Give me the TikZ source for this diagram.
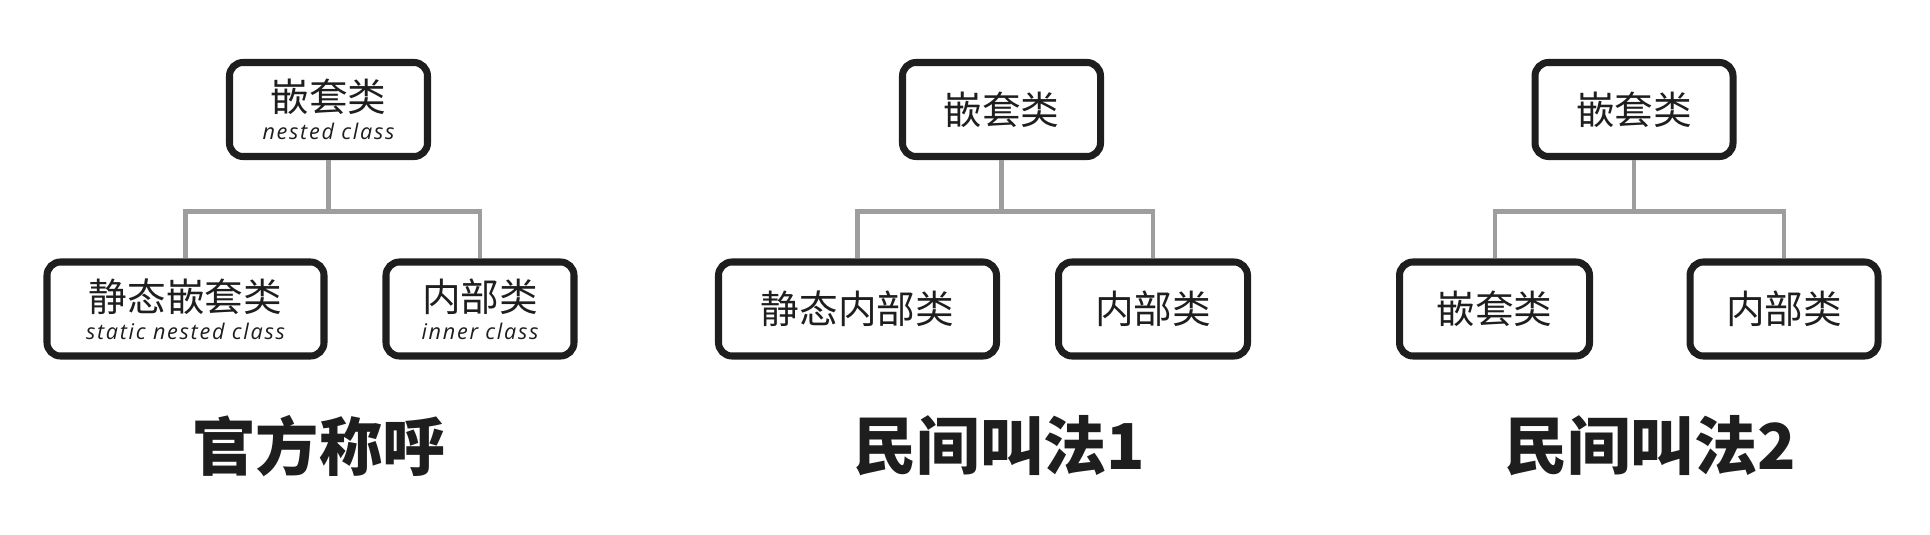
\documentclass[tikz,border=0pt]{standalone}
\usepackage{fontspec}
\usepackage{xcolor}
\usetikzlibrary{positioning, calc}
\setmainfont{Noto Sans CJK SC}
\newfontfamily\subfont[LetterSpace=8]{Open Sans}
\newcommand{\entext}[1]{{\subfont\itshape\fontsize{12.3}{14}\selectfont #1}}
\definecolor{ink}{HTML}{1E1E1E}
\definecolor{wire}{HTML}{9E9E9E}

\begin{document}
\begin{tikzpicture}[
  classbox/.style={draw=ink, line width=4pt, rounded corners=0.27cm, fill=white, text=ink,
    font=\fontsize{22}{24}\selectfont, align=center, minimum height=1.88cm, inner sep=0pt},
  link/.style={draw=wire, line width=2.3pt},
  tag/.style={font=\fontsize{36}{40}\selectfont\bfseries, text=ink}
]
\useasboundingbox (0,0) rectangle (38.6,10.68);
% Official names
\node[classbox, minimum width=3.96cm] (t1) at (6.57,8.49) {嵌套类\\[-8pt]\entext{nested class}};
\node[classbox, minimum width=5.54cm] (l1) at (3.71,4.5) {静态嵌套类\\[-8pt]\entext{static nested class}};
\node[classbox, minimum width=3.76cm] (r1) at (9.6,4.5) {内部类\\[-8pt]\entext{inner class}};
\path (t1.south) ++(0,-1.03) coordinate (j1);
\draw[link] (t1.south) -- (j1);
\draw[link] (l1.north) |- (j1) -| (r1.north);
\node[tag] (n1) at (6.38,1.76) {官方称呼};
%
% Folk names 1
\node[classbox, minimum width=3.96cm] (t2) at (20.03,8.49) {嵌套类};
\node[classbox, minimum width=5.56cm] (l2) at (17.15,4.5) {静态内部类};
\node[classbox, minimum width=3.78cm] (r2) at (23.06,4.5) {内部类};
\path (t2.south) ++(0,-1.03) coordinate (j2);
\draw[link] (t2.south) -- (j2);
\draw[link] (l2.north) |- (j2) -| (r2.north);
\node[tag] (n2) at (19.99,1.76) {民间叫法1};
%
% Folk names 2
\node[classbox, minimum width=3.96cm] (t3) at (32.68,8.49) {嵌套类};
\node[classbox, minimum width=3.80cm] (l3) at (29.89,4.5) {嵌套类};
\node[classbox, minimum width=3.76cm] (r3) at (35.68,4.5) {内部类};
\path (t3.south) ++(0,-1.03) coordinate (j3);
\draw[link] (t3.south) -- (j3);
\draw[link] (l3.north) |- (j3) -| (r3.north);
\node[tag] (n3) at (33.0,1.76) {民间叫法2};
\end{tikzpicture}
\end{document}
